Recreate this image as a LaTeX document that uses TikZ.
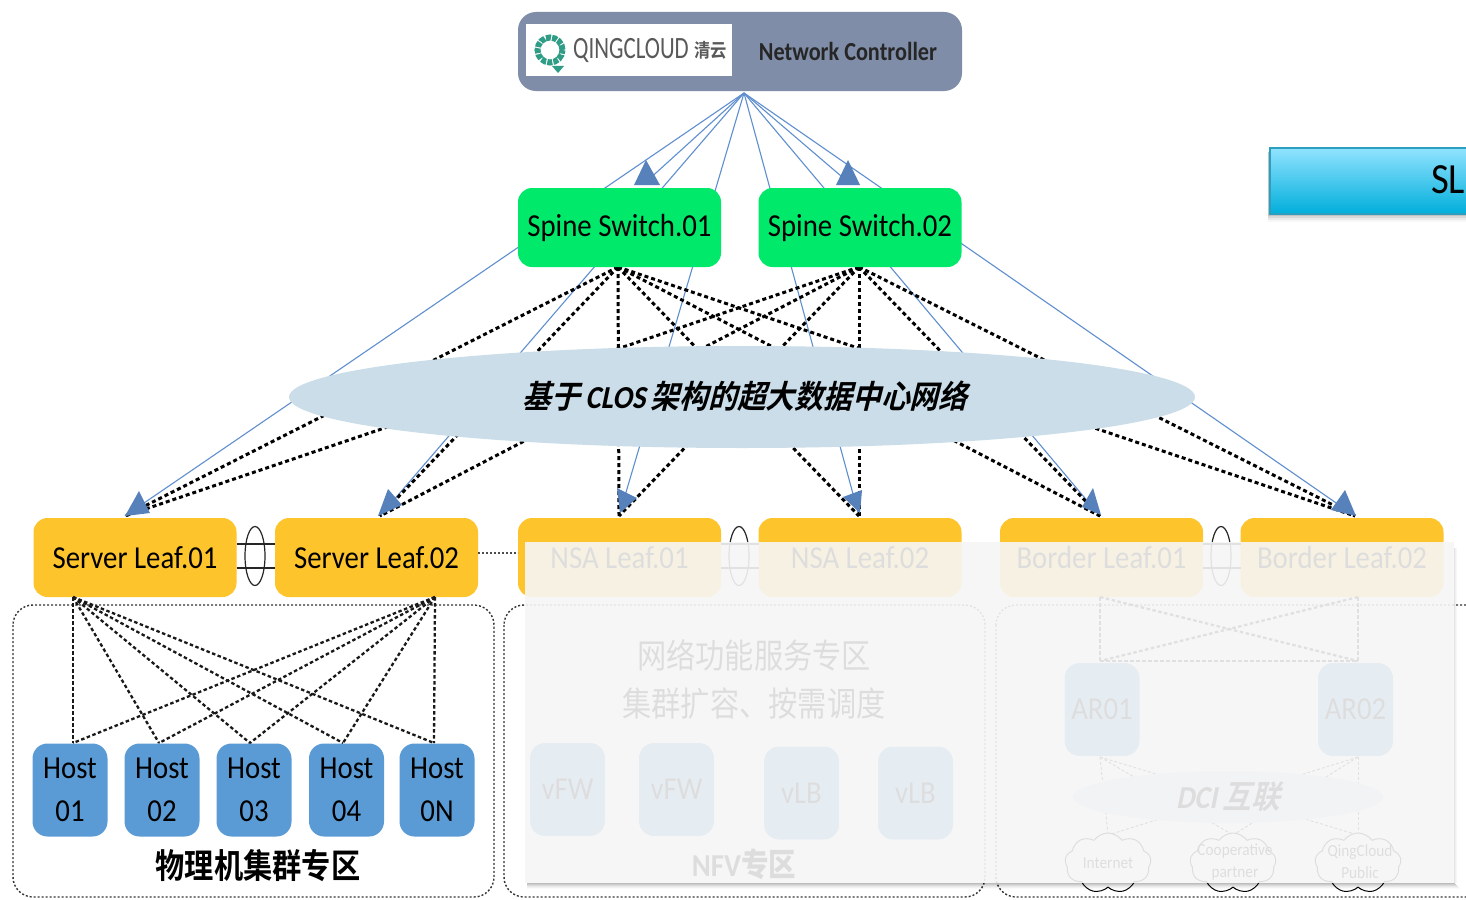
\documentclass[tikz,border=0pt]{standalone}
\usepackage{fontspec}
\setmainfont[FakeStretch=0.9]{Carlito}
\newfontfamily\cjk[FakeStretch=0.86]{Noto Sans CJK SC}
\newfontfamily\cjkb[FakeStretch=0.86]{Noto Sans CJK SC Bold}
\newfontfamily\cjkit[FakeSlant=0.25,FakeStretch=0.9]{Noto Sans CJK SC Bold}
\newfontfamily\carit[FakeSlant=0.2,FakeStretch=0.9]{Carlito Bold}
\usetikzlibrary{shapes.geometric,shapes.symbols}
\definecolor{ctrl}{HTML}{7F8DA8}
\definecolor{spinec}{HTML}{00E96A}
\definecolor{leafc}{HTML}{FEC42C}
\definecolor{hostc}{HTML}{5B9BD5}
\definecolor{bluel}{HTML}{5F8FCF}
\definecolor{ell}{HTML}{CADDE9}
\definecolor{tealg}{HTML}{2F9C85}
\definecolor{slatop}{HTML}{91E3FF}
\definecolor{slabot}{HTML}{00AEDB}
\definecolor{slaedge}{HTML}{2D9FBE}
\tikzset{
 x=1pt,y=-1pt,
 boxbase/.style={inner sep=0pt,outer sep=0pt,rounded corners=14pt,align=center},
 spinebox/.style={boxbase,fill=spinec,minimum width=203pt,minimum height=79pt,text height=22pt,text depth=4pt,font=\fontsize{32}{32}\selectfont},
 leafbox/.style={boxbase,fill=leafc,minimum width=203pt,minimum height=79pt,font=\fontsize{32}{32}\selectfont},
 hostbox/.style={boxbase,fill=hostc,minimum width=75pt,minimum height=93pt,rounded corners=15pt,font=\fontsize{32}{43}\selectfont},
 blueline/.style={draw=bluel,line width=1.1pt},
 thick dash/.style={draw=black,line width=3pt,dash pattern=on 4pt off 3pt},
 host dash/.style={draw=black!90,line width=2.3pt,dash pattern=on 3.5pt off 2.5pt},
 thin dash/.style={draw=black!90,line width=2.3pt,dash pattern=on 3.5pt off 2.5pt},
 zonebox/.style={draw=black!80,line width=1.4pt,dash pattern=on 2pt off 2pt,rounded corners=20pt,inner sep=0pt},
 head/.style={fill=bluel!90!black,draw=none},
 mlag/.style={draw=black!85,line width=1.2pt},
 cloudbox/.style={cloud,cloud puffs=9,cloud puff arc=110,aspect=1.5,draw=black,line width=1pt,fill=white,inner sep=0pt,minimum width=86pt,minimum height=60pt},
 cloudtext/.style={inner sep=0pt,align=center,font=\fontsize{17}{22}\selectfont},
}
\begin{document}
\begin{tikzpicture}
\useasboundingbox (0,0) rectangle (1466,899);
\clip (0,0) rectangle (1466,899);
\fill[white] (0,0) rectangle (1466,899);
% anchors
\coordinate (apex) at (744,93);
\coordinate (t1) at (125,516);
\coordinate (t2) at (380,516);
\coordinate (t3) at (619,516);
\coordinate (t4) at (859,516);
\coordinate (t5) at (1100,516);
\coordinate (t6) at (1355,516);
\coordinate (s1) at (618,267);
\coordinate (s2) at (859,267);
\coordinate (sa) at (646,182);
\coordinate (sb) at (848,182);
% blue lines
\foreach \t in {t1,t2,t3,t4,t5,t6,sa,sb}{\draw[blueline] (apex) -- (\t);}
% spine-leaf dashes
\foreach \s in {s1,s2}{\foreach \t in {t1,t2,t3,t4,t5,t6}{\draw[thick dash] (\s) -- (\t);}}
% arrow heads
\fill[head] (646,160) -- (660,185) -- (634,185) -- cycle;
\fill[head] (848,160) -- (860,185) -- (836,185) -- cycle;
\fill[head] (139,491) -- (150,513) -- (125,516) -- cycle;
\fill[head] (388,489) -- (402,505) -- (378,516) -- cycle;
\fill[head] (617,488) -- (637,498) -- (620,513) -- cycle;
\fill[head] (862,490) -- (860,513) -- (843,497) -- cycle;
\fill[head] (1093,488) -- (1101,515) -- (1082,507) -- cycle;
\fill[head] (1345,490) -- (1356,516) -- (1331,510) -- cycle;
% controller
\node[boxbase,fill=ctrl,rounded corners=18pt,minimum width=444pt,minimum height=79pt] (ctl) at (740,51.5) {};
\node[fill=white,inner sep=0pt,minimum width=206pt,minimum height=52pt] (logo) at (629,50) {};
\node[circle,draw=tealg,line width=6pt,dash pattern=on 5pt off 1.2pt,minimum size=25pt,inner sep=0pt] (logoc) at (550,50) {};
\fill[tealg] (552,66) -- (564,66) -- (558,73) -- cycle;
\node[text=black!65,font=\fontsize{31}{31}\selectfont,inner sep=0pt,anchor=west] (qc) at (573,50) {\scalebox{0.82}[1]{QINGCLOUD}};
\node[text=black!65,font=\cjkb\fontsize{19}{19}\selectfont,inner sep=0pt,anchor=west] (qcz) at (694,50) {清云};
\node[text=black!85,font=\bfseries\fontsize{26}{26}\selectfont,inner sep=0pt] (ncl) at (848,51) {\scalebox{0.95}[1]{Network Controller}};
% spines
\node[spinebox] (sp1) at (619.5,227.5) {Spine Switch.01};
\node[spinebox] (sp2) at (860,227.5) {Spine Switch.02};
% ellipse
\node[ellipse,fill=ell,inner sep=0pt,minimum width=906pt,minimum height=102pt] (clos) at (742,397) {};
\node[inner sep=0pt,font=\fontsize{32}{32}\selectfont] (clost) at (745,396) {{\cjkit 基于}\,{\carit CLOS}\,{\cjkit 架构的超大数据中心网络}};
% zones
\draw[zonebox] (13,605) rectangle (494,897);
\draw[zonebox] (504,605) rectangle (985,897);
\draw[zonebox] (996,605) rectangle (1490,897);
% leaves
\node[leafbox] (l1) at (135,557.5) {Server Leaf.01};
\node[leafbox] (l2) at (376.5,557.5) {Server Leaf.02};
\node[leafbox] (l3) at (619.5,557.5) {NSA Leaf.01};
\node[leafbox] (l4) at (860,557.5) {NSA Leaf.02};
\node[leafbox] (l5) at (1101.5,557.5) {Border Leaf.01};
\node[leafbox] (l6) at (1342,557.5) {Border Leaf.02};
% mlag
\foreach \a/\b/\c in {l1/l2/255,l3/l4/739,l5/l6/1221}{
 \node[ellipse,mlag,minimum width=20pt,minimum height=59pt,inner sep=0pt] (m\a) at (\c,556) {};
 \draw[mlag] (\a.east |- 0,544) -- (\b.west |- 0,544);
 \draw[mlag] (\a.east |- 0,568) -- (\b.west |- 0,568);
}
\draw[draw=black!70,line width=1.6pt,dash pattern=on 2pt off 2pt] (l2.east |- 0,553) -- (l3.west |- 0,553);
% hosts
\node[hostbox] (h1) at (70,790) {Host\\01};
\node[hostbox] (h2) at (162,790) {Host\\02};
\node[hostbox] (h3) at (254,790) {Host\\03};
\node[hostbox] (h4) at (346.5,790) {Host\\04};
\node[hostbox] (h5) at (437,790) {Host\\0N};
\coordinate (b1) at (73,597);
\coordinate (b2) at (435,597);
\foreach \h/\x in {h1/73,h2/159,h3/250,h4/343,h5/434}{
 \draw[host dash] (b1) -- (\x,743);
 \draw[host dash] (b2) -- (\x,743);
}
\node[inner sep=0pt,font=\cjkb\fontsize{34}{34}\selectfont] (z1) at (258,866) {物理机集群专区};
% NFV zone (under veil)
\node[inner sep=0pt,font=\cjk\fontsize{34}{48}\selectfont,align=center] (z2) at (754,679) {网络功能服务专区\\集群扩容、按需调度};
\node[hostbox] (v1) at (567.5,789.5) {vFW};
\node[hostbox] (v2) at (676.5,789.5) {vFW};
\node[hostbox] (v3) at (801.5,793) {vLB};
\node[hostbox] (v4) at (915.5,793) {vLB};
\node[inner sep=0pt,font=\bfseries\fontsize{32}{32}\selectfont] (z3) at (744,864) {NFV{\cjkb 专区}};
% Border zone
\coordinate (c1) at (1100,597);
\coordinate (c2) at (1358,597);
\coordinate (d1) at (1100,661);
\coordinate (d2) at (1358,661);
\coordinate (e1) at (1100,757);
\coordinate (e2) at (1358,757);
\foreach \f/\g in {c1/d1,c2/d2,c1/d2,c2/d1,d1/d2}{\draw[thin dash] (\f) -- (\g);}
\coordinate (k1) at (1108,835);
\coordinate (k2) at (1233,835);
\coordinate (k3) at (1358,835);
\foreach \f in {e1,e2}{\foreach \g in {k1,k2,k3}{\draw[draw=black!85,line width=1pt,dash pattern=on 3pt off 2pt] (\f) -- (\g);}}
\node[ellipse,fill=ell,inner sep=0pt,minimum width=310pt,minimum height=52pt] (dci) at (1228,797) {};
\node[inner sep=0pt,font=\fontsize{32}{32}\selectfont] (dcit) at (1228,797) {{\carit DCI}\,{\cjkit 互联}};
\node[hostbox] (a1) at (1102,709.5) {AR01};
\node[hostbox] (a2) at (1355.5,709.5) {AR02};
\node[cloudbox] (cl1) at (1108,863) {};
\node[cloudbox] (cl2) at (1233,863) {};
\node[cloudbox] (cl3) at (1358,863) {};
\node[cloudtext] (ct1) at (1108,863) {Internet};
\node[cloudtext] (ct2) at (1235,862) {Cooperative\\partner};
\node[cloudtext] (ct3) at (1360,862) {QingCloud\\Public};
% veil and its shadow
\foreach \i/\o in {1/0.26,2/0.20,3/0.14,4/0.09,5/0.05,6/0.02}{
 \fill[black,opacity=\o] (527,{883+\i-1}) rectangle ({1454+\i},{883+\i});
}
\foreach \i/\o in {1/0.10,2/0.06,3/0.03}{
 \fill[black,opacity=\o] ({1454+\i-1},548) rectangle ({1454+\i},883);
}
\fill[fill=black!3.5,opacity=0.9] (525,542) rectangle (1454,883);
% SLA box
\foreach \i/\o in {2/0.10,4/0.08,6/0.05,8/0.03}{\fill[black,opacity=\o] (1268,152) rectangle (1490,{214+\i});}
\shade[top color=slatop,bottom color=slabot,draw=slaedge,line width=1.5pt] (1270,148) rectangle (1490,214);
\node[inner sep=0pt,anchor=west,font=\fontsize{43}{43}\selectfont] (sla) at (1431,180) {SL};
\end{tikzpicture}
\end{document}
